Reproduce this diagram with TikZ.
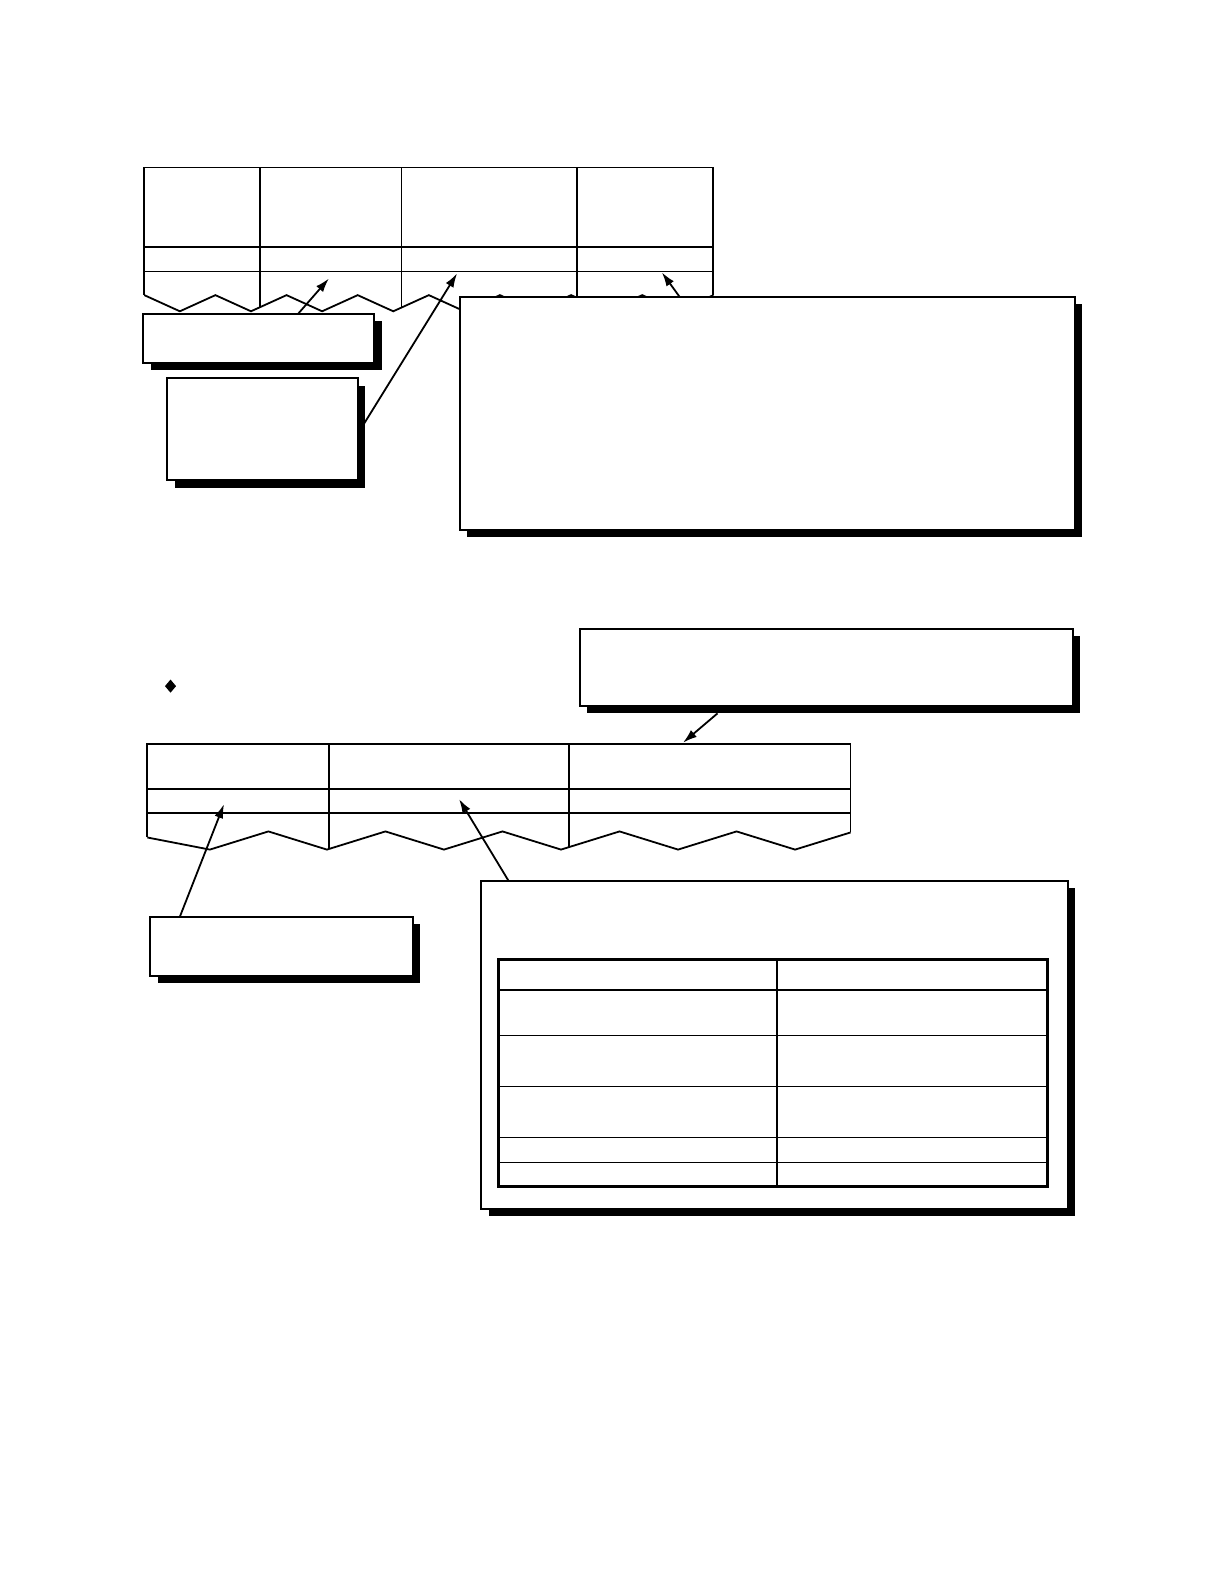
\documentclass[tikz,border=0pt]{standalone}
\usetikzlibrary{shadows,calc,arrows.meta}
\tikzset{
  notebox/.style={draw=black, line width=1bp, fill=white, inner sep=0pt, outer sep=0pt,
    drop shadow={shadow xshift=3.6bp, shadow yshift=-3.6bp, fill=black, opacity=1}},
  tableline/.style={line width=0.9bp},
  leader/.style={line width=0.9bp, -{Latex[length=7bp,width=4.5bp]}},
}
\begin{document}
\begin{tikzpicture}[x=0.5045bp, y=-0.5045bp]
	\fill[white] (0,0) rectangle (1213.08,1569.87);

	% upper record
	\draw[tableline] (143,292.5) -- (143,166) -- (707,166) -- (707,292.5);
	\draw[tableline] (143,245) -- (707,245) (143,269) -- (707,269);
	\draw[tableline] (258,166) -- (258,304.3) (398,166) -- (398,304.8) (572,166) -- (572,295.2);
	\draw[tableline] (143,292.5) \foreach \k in {0,...,7} {-- ({178.25+70.5*\k},308.5) -- ({213.5+70.5*\k},292.5)};

	\node[notebox, minimum width=115.5bp, minimum height=24.7bp] (fieldnote) at (256.5,335.5) {};
	\node[notebox, minimum width=95.4bp,  minimum height=51bp]   (sizenote)  at (260.5,425.5) {};
	\node[notebox, minimum width=307.2bp, minimum height=116.5bp] (codenote) at (760.5,409.5) {};

	\coordinate (fieldtip) at (326,276);
	\coordinate (sizetip)  at (453,271);
	\coordinate (codetip)  at (656,270);
	\draw[leader] ($(fieldnote.north west)!0.67!(fieldnote.north east)$) -- (fieldtip);
	\draw[leader] ($(sizenote.east)+(6,-6)$) -- (sizetip);
	\draw[leader] ($(codenote.north west)!0.357!(codenote.north east)$) -- (codetip);

	% lower record
	\fill (169,673.5) -- (174.5,680) -- (169,686.5) -- (163.5,680) -- cycle;

	\draw[tableline] (146,830) -- (146,737) -- (843,737) -- (843,825);
	\draw[tableline] (146,782) -- (843,782) (146,806) -- (843,806);
	\draw[tableline] (326,737) -- (326,841.4) (564,737) -- (564,839.5);
	\draw[tableline] (146,830) -- (208,842) \foreach \k in {0,...,4} {-- ({266+116*\k},824) -- ({324+116*\k},842)} -- (843,825);

	\node[notebox, minimum width=246.2bp, minimum height=38.8bp] (headnote) at (819,661.5) {};
	\node[notebox, minimum width=131.2bp, minimum height=29.3bp] (keynote)  at (279,938) {};
	\node[notebox, minimum width=293.1bp, minimum height=164bp]  (typenote) at (767.5,1035.5) {};

	% table inside the lower note
	\draw[line width=1.2bp] (494,951) rectangle (1038,1176);
	\draw[line width=1.2bp] (494,981) -- (1038,981);
	\draw[tableline] (770,951) -- (770,1176);
	\foreach \r in {1026,1077,1127,1152}
		\draw[line width=0.6bp] (494,\r) -- (1038,\r);

	\coordinate (headtip) at (677,736);
	\coordinate (keytip)  at (222,797);
	\coordinate (typetip) at (455,792);
	\draw[leader] ($(headnote.south west)!0.279!(headnote.south east)+(0,7)$) -- (headtip);
	\draw[leader] ($(keynote.north west)!0.112!(keynote.north east)$) -- (keytip);
	\draw[leader] ($(typenote.north west)!0.0465!(typenote.north east)$) -- (typetip);

	\pgfresetboundingbox
	\path[use as bounding box] (0,0) rectangle (1213.08,1569.87);
\end{tikzpicture}
\end{document}
